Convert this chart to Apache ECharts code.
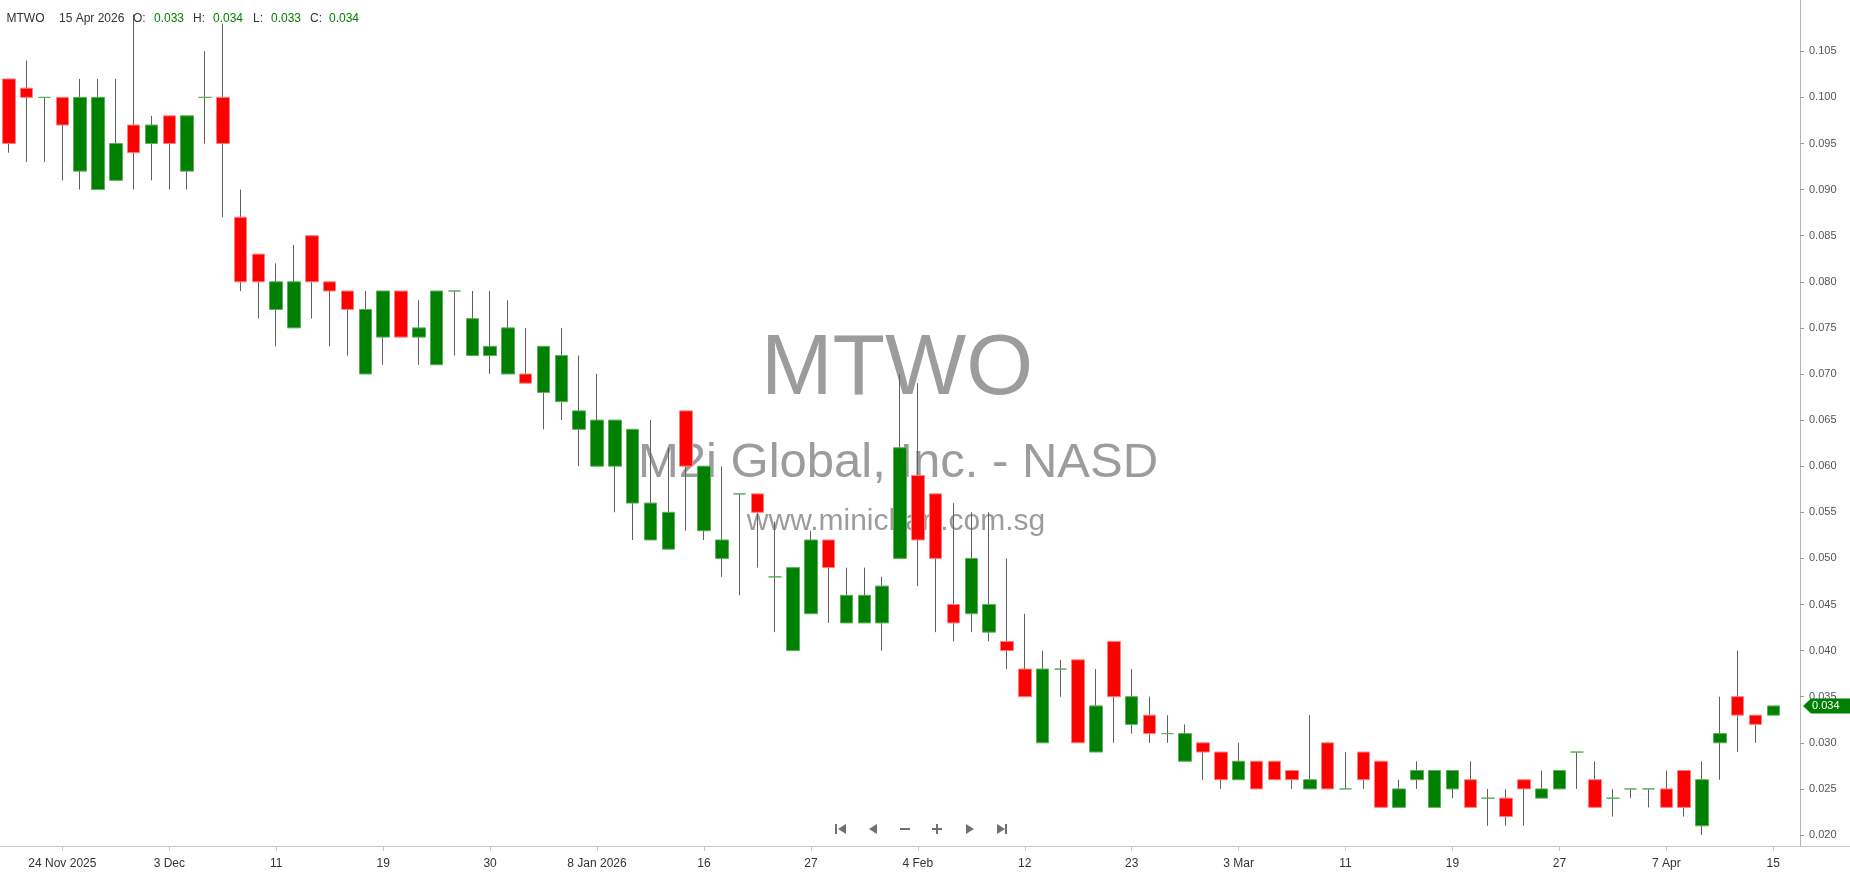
<!DOCTYPE html>
<html>
<head>
<meta charset="utf-8">
<script src="https://cdn.jsdelivr.net/npm/echarts@6/dist/echarts.min.js"></script>
<style>html,body{margin:0;padding:0;background:#fff}#c{width:1850px;height:874px}</style>
</head>
<body>
<div id="c"></div>
<script>
const symbolName = 'MTWO';
const companyName = 'M2i Global, Inc. - NASD';
const siteName = 'www.minichart.com.sg';

const dates = [
'2025-11-19','2025-11-20','2025-11-21','2025-11-24','2025-11-25','2025-11-26','2025-11-28','2025-12-01','2025-12-02','2025-12-03',
'2025-12-04','2025-12-05','2025-12-08','2025-12-09','2025-12-10','2025-12-11','2025-12-12','2025-12-15','2025-12-16','2025-12-17',
'2025-12-18','2025-12-19','2025-12-22','2025-12-23','2025-12-24','2025-12-26','2025-12-29','2025-12-30','2025-12-31','2026-01-02',
'2026-01-05','2026-01-06','2026-01-07','2026-01-08','2026-01-09','2026-01-12','2026-01-13','2026-01-14','2026-01-15','2026-01-16',
'2026-01-20','2026-01-21','2026-01-22','2026-01-23','2026-01-26','2026-01-27','2026-01-28','2026-01-29','2026-01-30','2026-02-02',
'2026-02-03','2026-02-04','2026-02-05','2026-02-06','2026-02-09','2026-02-10','2026-02-11','2026-02-12','2026-02-13','2026-02-17',
'2026-02-18','2026-02-19','2026-02-20','2026-02-23','2026-02-24','2026-02-25','2026-02-26','2026-02-27','2026-03-02','2026-03-03',
'2026-03-04','2026-03-05','2026-03-06','2026-03-09','2026-03-10','2026-03-11','2026-03-12','2026-03-13','2026-03-16','2026-03-17',
'2026-03-18','2026-03-19','2026-03-20','2026-03-23','2026-03-24','2026-03-25','2026-03-26','2026-03-27','2026-03-30','2026-03-31',
'2026-04-01','2026-04-02','2026-04-06','2026-04-07','2026-04-08','2026-04-09','2026-04-10','2026-04-13','2026-04-14','2026-04-15'
];

const opens = [
0.102,0.101,0.100,0.100,0.092,0.090,0.091,0.097,0.095,0.098,
0.092,0.100,0.100,0.087,0.083,0.077,0.075,0.085,0.080,0.079,
0.070,0.074,0.079,0.074,0.071,0.079,0.072,0.072,0.070,0.070,
0.068,0.067,0.064,0.060,0.060,0.056,0.052,0.051,0.066,0.053,
0.050,0.057,0.057,0.048,0.040,0.044,0.052,0.043,0.043,0.043,
0.050,0.059,0.057,0.045,0.044,0.042,0.041,0.038,0.030,0.038,
0.039,0.029,0.041,0.032,0.033,0.031,0.028,0.030,0.029,0.026,
0.028,0.028,0.027,0.025,0.030,0.025,0.029,0.028,0.023,0.026,
0.023,0.025,0.026,0.024,0.024,0.026,0.024,0.025,0.029,0.026,
0.024,0.025,0.025,0.025,0.027,0.021,0.030,0.035,0.033,0.033
];
const closes = [
0.095,0.100,0.100,0.097,0.100,0.100,0.095,0.094,0.097,0.095,
0.098,0.100,0.095,0.080,0.080,0.080,0.080,0.080,0.079,0.077,
0.077,0.079,0.074,0.075,0.079,0.079,0.076,0.073,0.075,0.069,
0.073,0.072,0.066,0.065,0.065,0.064,0.056,0.055,0.060,0.060,
0.052,0.057,0.055,0.048,0.049,0.052,0.049,0.046,0.046,0.047,
0.062,0.052,0.050,0.043,0.050,0.045,0.040,0.035,0.038,0.038,
0.030,0.034,0.035,0.035,0.031,0.031,0.031,0.029,0.026,0.028,
0.025,0.026,0.026,0.026,0.025,0.025,0.026,0.023,0.025,0.027,
0.027,0.027,0.023,0.024,0.022,0.025,0.025,0.027,0.029,0.023,
0.024,0.025,0.025,0.023,0.023,0.026,0.031,0.033,0.032,0.034
];
const highs = [
0.102,0.104,0.100,0.100,0.102,0.102,0.102,0.109,0.098,0.098,
0.098,0.105,0.108,0.090,0.083,0.082,0.084,0.085,0.080,0.079,
0.079,0.079,0.079,0.078,0.079,0.079,0.079,0.079,0.078,0.075,
0.073,0.075,0.072,0.070,0.065,0.064,0.065,0.062,0.066,0.060,
0.060,0.057,0.057,0.054,0.049,0.053,0.052,0.049,0.049,0.048,
0.070,0.069,0.057,0.056,0.055,0.055,0.050,0.044,0.040,0.039,
0.039,0.038,0.041,0.038,0.035,0.033,0.032,0.030,0.029,0.030,
0.028,0.028,0.027,0.033,0.030,0.029,0.029,0.028,0.026,0.028,
0.027,0.027,0.028,0.025,0.025,0.026,0.027,0.027,0.029,0.028,
0.025,0.025,0.025,0.027,0.027,0.028,0.035,0.040,0.033,0.034
];
const lows = [
0.094,0.093,0.093,0.091,0.090,0.090,0.091,0.090,0.091,0.090,
0.090,0.095,0.087,0.079,0.076,0.073,0.075,0.076,0.073,0.072,
0.070,0.071,0.074,0.071,0.071,0.072,0.072,0.070,0.070,0.069,
0.064,0.065,0.060,0.060,0.055,0.052,0.052,0.051,0.053,0.052,
0.048,0.046,0.049,0.042,0.040,0.044,0.043,0.043,0.043,0.040,
0.050,0.047,0.042,0.041,0.042,0.041,0.038,0.035,0.030,0.035,
0.030,0.029,0.030,0.031,0.030,0.030,0.028,0.026,0.025,0.026,
0.025,0.026,0.025,0.025,0.025,0.025,0.025,0.023,0.023,0.025,
0.023,0.024,0.023,0.021,0.021,0.021,0.024,0.025,0.025,0.023,
0.022,0.024,0.023,0.023,0.022,0.020,0.026,0.029,0.030,0.033
];

const xTickDates = ['2025-11-24','2025-12-03','2025-12-11','2025-12-19','2025-12-30','2026-01-08','2026-01-16','2026-01-27','2026-02-04','2026-02-12','2026-02-23','2026-03-03','2026-03-11','2026-03-19','2026-03-27','2026-04-07','2026-04-15'];
const xTickLabels = ['24 Nov 2025','3 Dec','11','19','30','8 Jan 2026','16','27','4 Feb','12','23','3 Mar','11','19','27','7 Apr','15'];
const yTickValues = [0.020,0.025,0.030,0.035,0.040,0.045,0.050,0.055,0.060,0.065,0.070,0.075,0.080,0.085,0.090,0.095,0.100,0.105];
const monthNames = ['Jan','Feb','Mar','Apr','May','Jun','Jul','Aug','Sep','Oct','Nov','Dec'];

const FONT = "'Liberation Sans', Arial, sans-serif";
const UP = '#008000', DOWN = '#ff0000', UP_EDGE = '#5cad5c', DOWN_EDGE = '#ff8080', WICK = '#606060';
const Y_MIN = 0.01881, Y_MAX = 0.11056;

const n = dates.length;
const isUp = i => closes[i] >= opens[i];
const wickData = dates.map((d, i) => [opens[i], closes[i], lows[i], highs[i]]);
const bodyData = dates.map((d, i) => {
  const c = isUp(i) ? UP : DOWN, e = isUp(i) ? UP_EDGE : DOWN_EDGE;
  return { value: [opens[i], closes[i], Math.min(opens[i], closes[i]), Math.max(opens[i], closes[i])],
           itemStyle: { color: c, color0: c, borderColor: e, borderColor0: e } };
});

const chart = echarts.init(document.getElementById('c'));
const showTick = (idx, val) => xTickDates.indexOf(val) >= 0;

chart.setOption({
  animation: false,
  backgroundColor: '#ffffff',
  grid: { left: 0, right: 50, top: 0, bottom: 28, containLabel: false },
  xAxis: {
    type: 'category', data: dates, boundaryGap: true, min: 0, max: n,
    axisLine: { onZero: false, lineStyle: { color: '#c8c8c8', width: 1 } },
    axisTick: { show: true, alignWithLabel: true, interval: showTick, length: 5, lineStyle: { color: '#c8c8c8' } },
    axisLabel: { interval: showTick, formatter: v => { const k = xTickDates.indexOf(v); return k >= 0 ? xTickLabels[k] : ''; },
                 color: '#333', fontSize: 12, fontFamily: FONT, margin: 12 },
    splitLine: { show: false }
  },
  yAxis: {
    type: 'value', position: 'right', min: Y_MIN, max: Y_MAX, scale: true,
    axisLine: { show: true, lineStyle: { color: '#b4b4b4' } },
    axisTick: { show: true, length: 4, customValues: yTickValues, lineStyle: { color: '#999' } },
    axisLabel: { customValues: yTickValues, formatter: v => v.toFixed(3), color: '#555', fontSize: 11, fontFamily: FONT, margin: 9 },
    splitLine: { show: false }
  },
  series: [
    { type: 'candlestick', name: 'wick', data: wickData, barWidth: 1, clip: false, silent: true, z: 2,
      itemStyle: { color: WICK, color0: WICK, borderColor: WICK, borderColor0: WICK, borderWidth: 1 } },
    { type: 'candlestick', name: 'body', data: bodyData, barWidth: 13, clip: false, silent: true, z: 3,
      itemStyle: { borderWidth: 1 } }
  ]
});

// overlay graphics
const last = n - 1;
const dParts = dates[last].split('-');
const dateText = (+dParts[2]) + ' ' + monthNames[+dParts[1] - 1] + ' ' + dParts[0];
const f3 = v => v.toFixed(3);
const headerTokens = [
  [symbolName, 6.5, '#333'], [dateText, 59, '#333'],
  ['O:', 133, '#333'], [f3(opens[last]), 154, UP],
  ['H:', 193, '#333'], [f3(highs[last]), 213, UP],
  ['L:', 253, '#333'], [f3(lows[last]), 271, UP],
  ['C:', 310, '#333'], [f3(closes[last]), 329, UP]
];
const txt = (t, x, y, font, fill, align, z) => ({ type: 'text', x: x, y: y, z: z, silent: true,
  style: { text: t, font: font, fill: fill, textAlign: align, align: align, textVerticalAlign: 'middle', verticalAlign: 'middle' } });

const g = [];
// watermark (under candles)
g.push(txt(symbolName, 897, 370, "86px " + FONT, '#9c9c9c', 'center', 0));
g.push(txt(companyName, 898, 463, "49px " + FONT, '#9c9c9c', 'center', 0));
g.push(txt(siteName, 896, 522, "30px " + FONT, '#9c9c9c', 'center', 0));
headerTokens.forEach(t => g.push(txt(t[0], t[1], 19, "12px " + FONT, t[2], 'left', 100)));

// extend bottom axis line to right edge
g.push({ type: 'line', z: 100, silent: true, shape: { x1: 1800, y1: 846.5, x2: 1850, y2: 846.5 }, style: { stroke: '#c8c8c8', lineWidth: 1 } });

// last price tag
const yLast = chart.convertToPixel({ yAxisIndex: 0 }, closes[last]);
g.push({ type: 'polygon', z: 100, silent: true, shape: { points: [[1803, yLast], [1811, yLast - 7.5], [1850, yLast - 7.5], [1850, yLast + 7.5], [1811, yLast + 7.5]] }, style: { fill: UP } });
g.push(txt(f3(closes[last]), 1812, yLast, "11px " + FONT, '#ffffff', 'left', 101));

// navigation buttons
const NAV = '#707070', cy = 829;
const navShapes = [
  { type: 'rect', shape: { x: 835, y: cy - 5, width: 2, height: 10 } },
  { type: 'polygon', shape: { points: [[846, cy - 5], [846, cy + 5], [838, cy]] } },
  { type: 'polygon', shape: { points: [[877, cy - 5], [877, cy + 5], [869, cy]] } },
  { type: 'rect', shape: { x: 900, y: cy - 1, width: 10, height: 2 } },
  { type: 'rect', shape: { x: 932, y: cy - 1, width: 10, height: 2 } },
  { type: 'rect', shape: { x: 936, y: cy - 5, width: 2, height: 10 } },
  { type: 'polygon', shape: { points: [[966, cy - 5], [966, cy + 5], [974, cy]] } },
  { type: 'polygon', shape: { points: [[997, cy - 5], [997, cy + 5], [1005, cy]] } },
  { type: 'rect', shape: { x: 1005, y: cy - 5, width: 2, height: 10 } }
];
navShapes.forEach(s => { s.z = 100; s.silent = true; s.style = { fill: NAV }; g.push(s); });

chart.setOption({ graphic: { elements: g } });
</script>
</body>
</html>
